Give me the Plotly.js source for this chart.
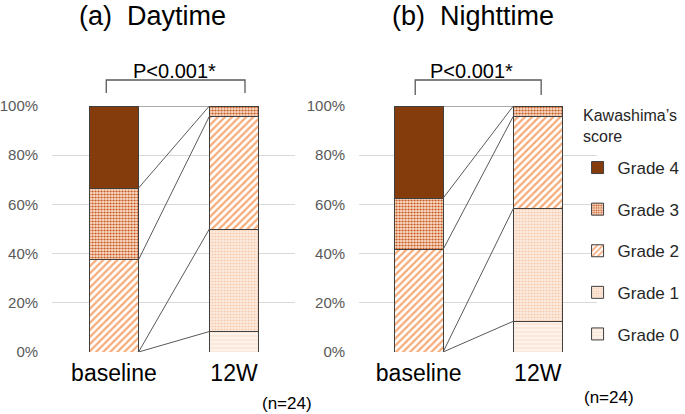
<!DOCTYPE html>
<html>
<head>
<meta charset="utf-8">
<script src="https://cdn.plot.ly/plotly-3.0.1.min.js"></script>
<style>html,body{margin:0;padding:0;background:#fff;}#chart{width:685px;height:414px;}</style>
</head>
<body>
<div id="chart"></div>
<script>
// ---- data (patients, n = 24) ----
const categories = ["baseline", "12W"];
const grades = ["Grade 0", "Grade 1", "Grade 2", "Grade 3", "Grade 4"];
const dayBaseline = [0, 0, 9, 7, 8];
const day12W = [2, 10, 11, 1, 0];
const nightBaseline = [0, 0, 10, 5, 9];
const night12W = [3, 11, 9, 1, 0];
const panelTitles = ["(a)\u00a0 Daytime", "(b)\u00a0 Nighttime"];
const pText = "P&lt;0.001*";
const nText = "(n=24)";
const yTicks = [0, 20, 40, 60, 80, 100];
const yTickText = ["0%", "20%", "40%", "60%", "80%", "100%"];
const legendTitle = "Kawashima\u2019s<br>score";

// ---- styles ----
const gradeStyle = [
  {color: "#FDF1E8", pattern: {shape: "-", fgcolor: "#FBE2D0", bgcolor: "#FDF3EB", size: 4, solidity: 0.3}},
  {color: "#FCE4D6", pattern: {shape: ".", fgcolor: "#F6C6A6", bgcolor: "#FDEEE4", size: 3, solidity: 0.35}},
  {color: "#F4B183", pattern: {shape: "/", fgcolor: "#F6AB78", bgcolor: "#FFFFFF", size: 5, solidity: 0.45}},
  {color: "#C55A11", pattern: {shape: ".", fgcolor: "#C24E12", bgcolor: "#FBE0CC", size: 3, solidity: 0.4}},
  {color: "#843C0C", pattern: {shape: ""}}
];
const barW = 0.41;
const fontFam = "Liberation Sans, Arial, sans-serif";

const traces = [];
function addPanel(base, w12, xa, ya, showLeg) {
  grades.forEach((g, i) => {
    traces.push({
      type: "bar", x: [0, 1], y: [base[i], w12[i]], width: barW,
      xaxis: xa, yaxis: ya, name: g, legendgroup: g, legendrank: grades.length - i,
      showlegend: showLeg,
      marker: {color: gradeStyle[i].color, pattern: gradeStyle[i].pattern,
               line: {color: "#3F3F3F", width: 1}},
      hoverinfo: "skip"
    });
  });
  // connecting lines between cumulative boundaries
  const tb = base.reduce((a, b) => a + b, 0), tw = w12.reduce((a, b) => a + b, 0);
  let cb = 0, cw = 0;
  grades.forEach((g, i) => {
    cb += base[i]; cw += w12[i];
    traces.push({
      type: "scatter", mode: "lines", x: [barW / 2, 1 - barW / 2],
      y: [cb / tb * 100, cw / tw * 100], xaxis: xa, yaxis: ya,
      line: {color: "#595959", width: 1}, showlegend: false, hoverinfo: "skip"
    });
  });
}
addPanel(dayBaseline, day12W, "x", "y", true);
addPanel(nightBaseline, night12W, "x2", "y2", false);

const W = 685, H = 414;
const px = v => v / W, py = v => 1 - v / H;
const yDom = [py(352), py(106)];

function xAxis(dom) {
  return {domain: dom, range: [-0.515, 1.51], tickvals: [0, 1], ticktext: categories,
    showgrid: false, zeroline: false, showline: false, ticks: "",
    ticklabelstandoff: 5,
    tickfont: {family: fontFam, size: 23, color: "#000"}, fixedrange: true};
}
function yAxis(dom, anchor) {
  return {domain: dom, anchor: anchor, range: [0, 100], tickvals: yTicks, ticktext: yTickText,
    showgrid: true, gridcolor: "#D9D9D9", gridwidth: 1, zeroline: false, showline: false,
    ticks: "", ticklabelstandoff: 13,
    tickfont: {family: fontFam, size: 15, color: "#595959"}, fixedrange: true};
}

const layout = {
  width: W, height: H, margin: {l: 0, r: 0, t: 0, b: 0},
  paper_bgcolor: "#fff", plot_bgcolor: "#fff",
  barmode: "stack", barnorm: "percent",
  font: {family: fontFam},
  xaxis: Object.assign(xAxis([px(53), px(300)]), {anchor: "y"}),
  yaxis: yAxis(yDom, "x"),
  xaxis2: Object.assign(xAxis([px(365), px(607)]), {anchor: "y2", range: [-0.5, 1.5]}),
  yaxis2: yAxis(yDom, "x2"),
  showlegend: true,
  legend: {x: px(587), y: py(150), xanchor: "left", yanchor: "top",
    traceorder: "grouped", tracegroupgap: 16.5,
    font: {family: fontFam, size: 17, color: "#262626"}, bgcolor: "rgba(0,0,0,0)"},
  annotations: [
    {text: panelTitles[0], xref: "paper", yref: "paper", x: px(155), y: py(16), showarrow: false,
     xanchor: "center", yanchor: "middle", font: {size: 27, color: "#000", family: fontFam}},
    {text: panelTitles[1], xref: "paper", yref: "paper", x: px(481), y: py(16), showarrow: false,
     xanchor: "center", yanchor: "middle", font: {size: 27, color: "#000", family: fontFam}},
    {text: pText, xref: "paper", yref: "paper", x: px(177), y: py(71), showarrow: false,
     xanchor: "center", yanchor: "middle", font: {size: 20, color: "#000", family: fontFam}},
    {text: pText, xref: "paper", yref: "paper", x: px(479), y: py(71), showarrow: false,
     xanchor: "center", yanchor: "middle", font: {size: 20, color: "#000", family: fontFam}},
    {text: nText, xref: "paper", yref: "paper", x: px(292), y: py(403), showarrow: false,
     xanchor: "center", yanchor: "middle", font: {size: 17, color: "#000", family: fontFam}},
    {text: nText, xref: "paper", yref: "paper", x: px(619), y: py(397), showarrow: false,
     xanchor: "center", yanchor: "middle", font: {size: 17, color: "#000", family: fontFam}},
    {text: legendTitle, xref: "paper", yref: "paper", x: px(590), y: py(105), showarrow: false,
     xanchor: "left", yanchor: "top", align: "left",
     font: {size: 16, color: "#262626", family: fontFam}}
  ],
  shapes: [
    {type: "path", xref: "paper", yref: "paper",
     path: `M ${px(108)} ${py(93)} L ${px(108)} ${py(80)} L ${px(249)} ${py(80)} L ${px(249)} ${py(93)}`,
     line: {color: "#595959", width: 1.3}},
    {type: "path", xref: "paper", yref: "paper",
     path: `M ${px(422)} ${py(95)} L ${px(422)} ${py(80)} L ${px(550)} ${py(80)} L ${px(550)} ${py(95)}`,
     line: {color: "#595959", width: 1.3}}
  ]
};

Plotly.newPlot("chart", traces, layout, {displayModeBar: false, staticPlot: true});
</script>
</body>
</html>
